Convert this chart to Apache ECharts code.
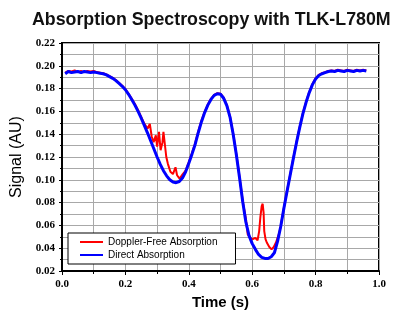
<!DOCTYPE html>
<html lang="en">
<head>
<meta charset="UTF-8">
<title>Absorption Spectroscopy</title>
<script src="https://cdn.jsdelivr.net/npm/echarts@6/dist/echarts.min.js"></script>
<style>
  html, body { margin: 0; padding: 0; background: #fff; }
  #chart { width: 394px; height: 310px; }
</style>
</head>
<body>
<div id="chart"></div>
<script>
// direct absorption trace (blue)
var time = [0.01,0.02,0.03,0.04,0.05,0.06,0.07,0.08,0.09,0.10,
  0.11,0.12,0.13,0.14,0.15,0.16,0.17,0.18,0.19,0.20,
  0.21,0.22,0.23,0.24,0.25,0.26,0.27,0.28,0.29,0.30,
  0.31,0.32,0.33,0.34,0.35,0.36,0.37,0.38,0.39,0.40,
  0.41,0.42,0.43,0.44,0.45,0.46,0.47,0.48,0.49,0.50,
  0.51,0.52,0.53,0.54,0.55,0.56,0.57,0.58,0.59,0.60,
  0.61,0.62,0.63,0.64,0.65,0.66,0.67,0.68,0.69,0.70,
  0.71,0.72,0.73,0.74,0.75,0.76,0.77,0.78,0.79,0.80,
  0.81,0.82,0.83,0.84,0.85,0.86,0.87,0.88,0.89,0.90,
  0.91,0.92,0.93,0.94,0.95,0.96];
var directSignal = [0.193,0.195,0.194,0.1945,0.195,0.194,0.195,0.1945,0.194,0.1945,
  0.194,0.1935,0.193,0.192,0.1905,0.189,0.187,0.1845,0.182,0.179,
  0.175,0.1705,0.1655,0.160,0.154,0.1475,0.141,0.134,0.127,0.120,
  0.1135,0.108,0.1035,0.100,0.098,0.0975,0.0985,0.1015,0.107,0.1145,
  0.1225,0.131,0.1415,0.151,0.159,0.1655,0.1705,0.174,0.1755,0.175,
  0.1715,0.165,0.155,0.140,0.122,0.102,0.081,0.063,0.051,0.044,
  0.039,0.0345,0.032,0.031,0.031,0.0325,0.036,0.046,0.059,0.075,
  0.090,0.1045,0.119,0.133,0.146,0.158,0.168,0.1765,0.1835,0.1885,
  0.1915,0.193,0.194,0.195,0.1955,0.195,0.196,0.1955,0.195,0.196,
  0.1955,0.195,0.196,0.1955,0.196,0.1955];

// doppler-free trace (red), finer sampling in the dips
var dfTime = [0.01,0.02,0.03,0.04,0.05,0.06,0.07,0.08,0.09,0.10,
  0.11,0.12,0.13,0.14,0.15,0.16,0.17,0.18,0.19,0.20,
  0.21,0.22,0.23,0.24,0.25,0.26,
  0.27,0.277,0.283,0.289,0.296,0.300,0.306,0.311,0.317,0.320,
  0.324,0.329,0.334,0.342,0.350,0.358,0.363,0.371,0.381,0.39,
  0.40,0.41,0.42,0.43,0.44,0.45,0.46,0.47,0.48,0.49,
  0.50,0.51,0.52,0.53,0.54,0.55,0.56,0.57,0.58,
  0.586,0.594,0.602,0.610,0.617,0.622,0.626,0.630,0.633,0.636,
  0.638,0.642,0.646,0.654,0.661,0.668,0.675,0.686,0.69,0.70,
  0.71,0.72,0.73,0.74,0.75,0.76,0.77,0.78,0.79,0.80,
  0.81,0.82,0.83,0.84,0.85,0.86,0.87,0.88,0.89,0.90,
  0.91,0.92,0.93,0.94,0.95,0.96];
var dopplerFreeSignal = [0.194,0.1955,0.195,0.196,0.1945,0.1955,0.1945,0.1955,0.195,0.1955,
  0.1945,0.194,0.1935,0.1925,0.191,0.1895,0.1875,0.185,0.1825,0.1795,
  0.1755,0.171,0.1665,0.161,0.155,0.149,
  0.145,0.149,0.138,0.133,0.139,0.129,0.142,0.126,0.133,0.142,
  0.143,0.120,0.114,0.107,0.105,0.111,0.104,0.101,0.105,0.108,
  0.1155,0.1235,0.132,0.1425,0.152,0.1595,0.166,0.171,0.1745,0.176,
  0.1755,0.172,0.1655,0.1555,0.1405,0.1225,0.1025,0.0815,0.066,
  0.052,0.049,0.048,0.049,0.047,0.055,0.068,0.077,0.079,0.071,
  0.055,0.048,0.045,0.041,0.039,0.041,0.045,0.054,0.0595,0.0755,
  0.0905,0.105,0.1195,0.1335,0.1465,0.1585,0.1685,0.177,0.184,0.189,
  0.192,0.1935,0.1945,0.1955,0.196,0.1955,0.1965,0.196,0.1955,0.1965,
  0.196,0.1955,0.1965,0.196,0.1965,0.196];

var seriesNames = ['Doppler-Free Absorption', 'Direct Absorption'];

function pairs(xs, ys) {
  return xs.map(function (x, i) { return [x, ys[i]]; });
}

var chart = echarts.init(document.getElementById('chart'));

var option = {
  animation: false,
  backgroundColor: '#fff',
  title: {
    text: 'Absorption Spectroscopy with TLK-L780M',
    left: 27,
    top: 6,
    textStyle: { fontFamily: 'Arial', fontWeight: 'bold', fontSize: 17.8, color: '#111' }
  },
  grid: {
    left: 62, right: 15, top: 43, bottom: 39,
    outerBoundsMode: 'none',
    containLabel: false,
    show: true, borderColor: '#000', borderWidth: 2
  },
  legend: {
    orient: 'vertical',
    left: 68, top: 233,
    data: [
      { name: seriesNames[0], icon: 'rect' },
      { name: seriesNames[1], icon: 'rect' }
    ],
    itemWidth: 23, itemHeight: 2, itemGap: 3,
    padding: [4, 18, 4, 12],
    borderColor: '#000', borderWidth: 1,
    backgroundColor: '#fff',
    textStyle: { fontFamily: 'Arial', fontSize: 10, color: '#000' }
  },
  xAxis: {
    type: 'value',
    min: 0, max: 1, interval: 0.2,
    name: 'Time (s)',
    nameLocation: 'middle',
    nameGap: 22,
    nameTextStyle: { fontFamily: 'Arial', fontWeight: 'bold', fontSize: 15, color: '#000' },
    axisLine: { show: true, lineStyle: { color: '#000', width: 2 } },
    axisTick: { show: true, length: 4, lineStyle: { color: '#000' } },
    minorTick: { show: true, splitNumber: 2, length: 3, lineStyle: { color: '#000' } },
    axisLabel: {
      margin: 8, color: '#000', fontFamily: 'Liberation Serif', fontWeight: 'bold', fontSize: 11,
      formatter: function (v) { return v.toFixed(1); }
    },
    splitLine: { show: true, lineStyle: { color: '#a8a8a8', width: 1 } },
    minorSplitLine: { show: true, lineStyle: { color: '#a8a8a8', width: 1 } }
  },
  yAxis: {
    type: 'value',
    min: 0.02, max: 0.22, interval: 0.02,
    name: 'Signal (AU)',
    nameLocation: 'middle',
    nameGap: 35,
    nameTextStyle: { fontFamily: 'Arial', fontSize: 16, color: '#000' },
    axisLine: { show: true, lineStyle: { color: '#000', width: 2 } },
    axisTick: { show: true, length: 3, lineStyle: { color: '#000' } },
    minorTick: { show: true, splitNumber: 2, length: 2, lineStyle: { color: '#000' } },
    axisLabel: {
      margin: 7, color: '#000', fontFamily: 'Liberation Serif', fontWeight: 'bold', fontSize: 11,
      formatter: function (v) { return v.toFixed(2); }
    },
    splitLine: { show: true, lineStyle: { color: '#a8a8a8', width: 1 } },
    minorSplitLine: { show: true, lineStyle: { color: '#a8a8a8', width: 1 } }
  },
  series: [
    {
      name: seriesNames[0],
      type: 'line',
      data: pairs(dfTime, dopplerFreeSignal),
      symbol: 'none',
      color: '#ff0000',
      lineStyle: { color: '#ff0000', width: 2 }
    },
    {
      name: seriesNames[1],
      type: 'line',
      data: pairs(time, directSignal),
      symbol: 'none',
      color: '#0000ff',
      lineStyle: { color: '#0000ff', width: 3 }
    }
  ]
};

chart.setOption(option);
</script>
</body>
</html>
